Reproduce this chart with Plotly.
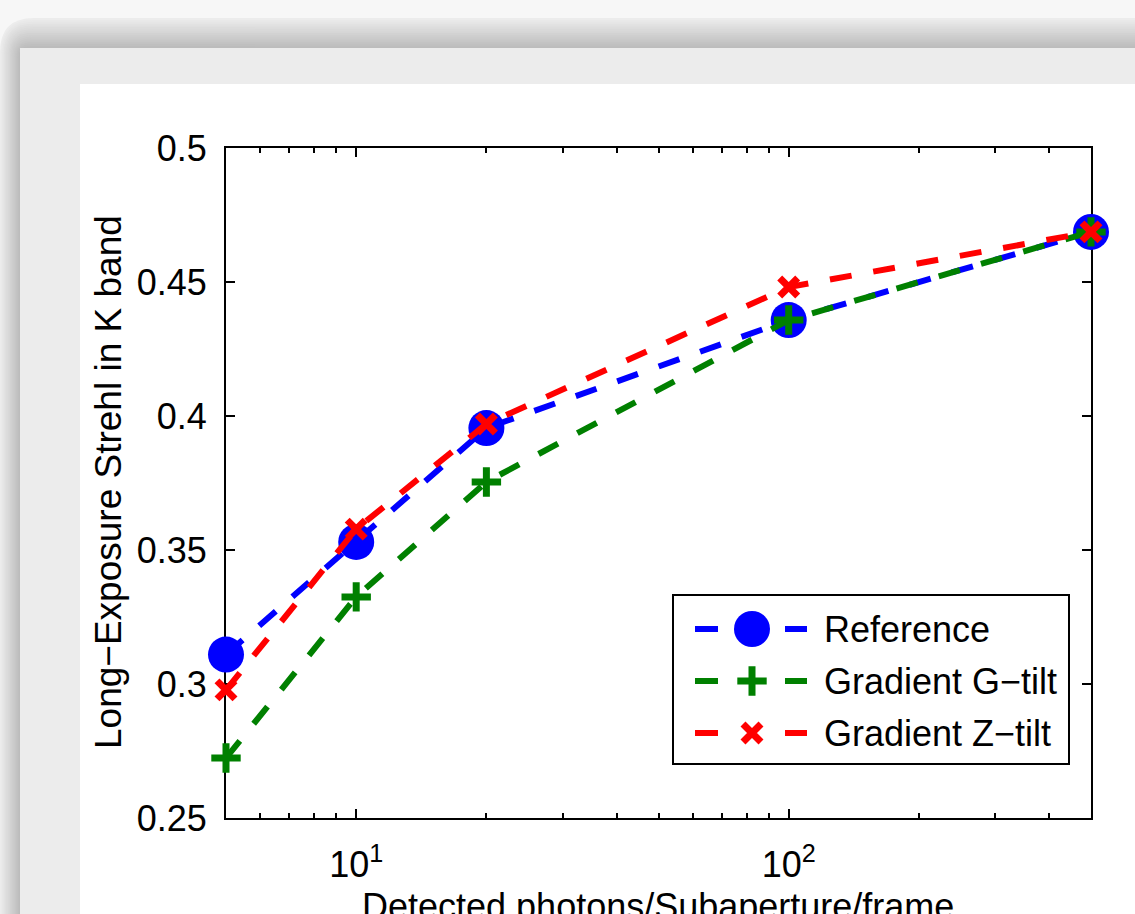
import math
import plotly.graph_objects as go

# ---------------- data ----------------
photons = [5, 10, 20, 100, 500]
strehl_reference = [0.311, 0.353, 0.3955, 0.4358, 0.4687]
strehl_gtilt = [0.2724, 0.3325, 0.3754, 0.4358, 0.4687]
strehl_ztilt = [0.2978, 0.3578, 0.397, 0.4481, 0.4687]

series_names = ["Reference", "Gradient G\u2212tilt", "Gradient Z\u2212tilt"]
series_values = [strehl_reference, strehl_gtilt, strehl_ztilt]

y_tick_vals = [0.25, 0.3, 0.35, 0.4, 0.45, 0.5]
y_tick_text = ["0.25", "0.3", "0.35", "0.4", "0.45", "0.5"]
x_tick_vals = [10, 100]
x_tick_text = ["10<sup>1</sup>", "10<sup>2</sup>"]
x_minor_vals = [6, 7, 8, 9, 20, 30, 40, 50, 60, 70, 80, 90, 200, 300, 400]

x_title = "Detected photons/Subaperture/frame"
y_title = "Long\u2212Exposure Strehl in K band"

# ---------------- styles ----------------
colors = ["#0000ff", "#008000", "#ff0000"]
markers = [
    dict(symbol="circle", size=36, color="#0000ff", line=dict(width=0)),
    dict(symbol="cross-thin", size=21, color="#008000", line=dict(width=7, color="#008000")),
    dict(symbol="x-thin", size=18, color="#ff0000", line=dict(width=7, color="#ff0000")),
]
FONT = "Liberation Sans, Arial, Helvetica, sans-serif"
FS = 36

W_FIG, H_FIG = 1135, 914
L, R, T, B = 226, 1091, 148, 818
PW, PH = R - L, B - T


def xp(px):
    return (px - L) / PW


def yp(py):
    return (B - py) / PH


fig = go.Figure()

for name, vals, col, mk in zip(series_names, series_values, colors, markers):
    fig.add_trace(go.Scatter(
        x=photons, y=vals, name=name, mode="lines+markers",
        line=dict(color=col, width=6, dash="22px,22px"),
        marker=mk, cliponaxis=False, showlegend=False,
    ))

# ---------------- manual legend (layout positions in pixels) ----------------
leg_rows = [629, 681, 733]
leg_marker_x = 752
for name, col, mk, ry in zip(series_names, colors, markers, leg_rows):
    fig.add_trace(go.Scatter(
        x=[leg_marker_x], y=[ry], mode="markers", marker=mk,
        xaxis="x2", yaxis="y2", showlegend=False, hoverinfo="skip",
        cliponaxis=False,
    ))

shapes = []


def rounded_path(x0, y0, x1, y1, r):
    def P(x, y):
        return f"{xp(x):.5f},{yp(y):.5f}"
    return (f"M{P(x0, y0 + r)} Q{P(x0, y0)} {P(x0 + r, y0)} "
            f"L{P(x1, y0)} L{P(x1, y1)} L{P(x0, y1)} Z")


# shadow frame gradient
n = 16
for k in range(n):
    t = k / (n - 1)
    c = int(round(236 - (236 - 188) * t))
    inset_x = k * 20 / n
    inset_y = k * 30 / n
    r = max(34 - k * 1.5, 4)
    shapes.append(dict(
        type="path", xref="paper", yref="paper", layer="below",
        path=rounded_path(0 + inset_x, 18 + inset_y, W_FIG + 50, H_FIG + 50, r),
        fillcolor=f"rgb({c},{c},{c})", line=dict(width=0),
    ))
# panel
shapes.append(dict(type="rect", xref="paper", yref="paper", layer="below",
                   x0=xp(20), x1=xp(W_FIG + 50), y0=yp(48), y1=yp(H_FIG + 50),
                   fillcolor="#ececec", line=dict(width=0)))
# white figure area
shapes.append(dict(type="rect", xref="paper", yref="paper", layer="below",
                   x0=xp(80), x1=xp(W_FIG + 50), y0=yp(84), y1=yp(H_FIG + 50),
                   fillcolor="#ffffff", line=dict(width=0)))
# legend box
shapes.append(dict(type="rect", xref="paper", yref="paper", layer="below",
                   x0=xp(673), x1=xp(1069), y0=yp(595), y1=yp(764),
                   fillcolor="#ffffff", line=dict(width=2, color="black")))
# legend dash samples
for col, ry in zip(colors, leg_rows):
    for (a, b) in [(695, 718), (785, 807)]:
        shapes.append(dict(type="line", xref="paper", yref="paper", layer="below",
                           x0=xp(a), x1=xp(b), y0=yp(ry), y1=yp(ry),
                           line=dict(width=6, color=col)))

annotations = []
for name, ry in zip(series_names, leg_rows):
    annotations.append(dict(text=name, xref="paper", yref="paper",
                            x=xp(822), y=yp(ry), xanchor="left", yanchor="middle",
                            showarrow=False, font=dict(family=FONT, size=FS, color="black")))
annotations.append(dict(text=y_title, xref="paper", yref="paper",
                        x=xp(108), y=yp(482), xanchor="center", yanchor="middle",
                        textangle=-90, showarrow=False,
                        font=dict(family=FONT, size=37, color="black")))
annotations.append(dict(text=x_title, xref="paper", yref="paper",
                        x=xp(658), y=yp(906), xanchor="center", yanchor="middle",
                        showarrow=False, font=dict(family=FONT, size=FS, color="black")))

axis_common = dict(
    showline=True, linecolor="black", linewidth=2, mirror="ticks",
    ticks="inside", tickcolor="black", tickwidth=2, ticklen=9,
    showgrid=False, zeroline=False, layer="below traces",
    tickfont=dict(family=FONT, size=FS, color="black"),
)

x_lo = math.log10(min(photons)) - 1e-6
x_hi = math.log10(max(photons)) + 1e-6

fig.update_layout(
    width=W_FIG, height=H_FIG,
    margin=dict(l=L, r=W_FIG - R, t=T, b=H_FIG - B, pad=0),
    paper_bgcolor="#f7f7f7", plot_bgcolor="rgba(0,0,0,0)",
    showlegend=False,
    shapes=shapes, annotations=annotations,
    xaxis=dict(type="log", range=[x_lo, x_hi],
               tickvals=x_tick_vals, ticktext=x_tick_text,
               minor=dict(ticks="inside", tickvals=x_minor_vals, ticklen=5,
                          tickcolor="black", tickwidth=2, showgrid=False),
               ticklabelstandoff=14,
               **axis_common),
    yaxis=dict(range=[0.25, 0.5], tickvals=y_tick_vals, ticktext=y_tick_text,
               ticklabelstandoff=10, **axis_common),
    xaxis2=dict(domain=[0, 1], range=[L, R], overlaying="x", anchor="y2",
                visible=False, showgrid=False),
    yaxis2=dict(range=[B, T], overlaying="y", anchor="x2",
                visible=False, showgrid=False),
)

fig.write_html("out.html", config={"displayModeBar": False},
               post_script="document.body.style.margin='0';document.body.style.overflow='hidden';")
